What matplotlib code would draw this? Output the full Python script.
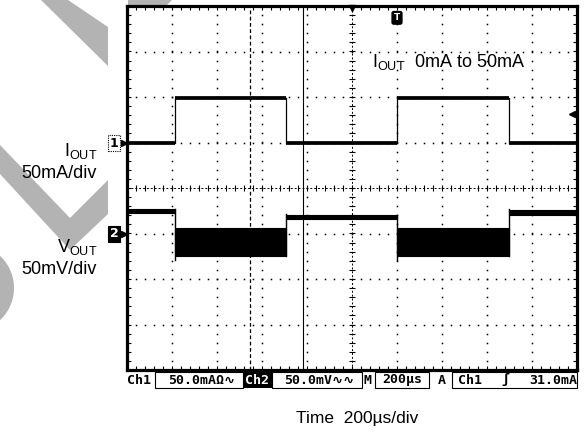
import numpy as np
import matplotlib
matplotlib.use('Agg')
import matplotlib.pyplot as plt
from matplotlib.patches import Polygon, Wedge, Rectangle

plt.rcParams['font.family'] = ['Liberation Sans', 'DejaVu Sans']
plt.rcParams['mathtext.fontset'] = 'custom'
plt.rcParams['mathtext.rm'] = 'Liberation Sans'
plt.rcParams['mathtext.it'] = 'Liberation Sans:italic'

# --- scope traces, in screen divisions (x 0..10, y -4..+4) ---
edges = [0.0, 1.07, 3.53, 6.0, 8.49, 10.0]
ch1_level = [0.98, 1.98, 0.98, 1.98, 0.98]
ch2_top = [-0.46, -0.88, -0.60, -0.88, -0.49]
ch2_bot = [-0.56, -1.50, -0.69, -1.50, -0.59]
ch2_peak = [-1.58, -0.57, -1.58, -0.47]   # spike right at each load step
trig_time = 6.0
trig_level = 1.62
cursor_dash = 2.73
cursor_solid = 3.91

# --- background watermark shapes (pixel coords) ---
wm_strip = [(41, 0), (68, 0), (108, 27), (108, 66)]
wm_top = [(128, 0), (172, 0), (166, 6), (128, 6)]
wm_vee = [(0, 145), (70, 218), (108, 180), (108, 214), (70, 250), (0, 174)]
wm_ring = dict(center=(-30, 288), r=44, width=14)
WM = '#b3b3b3'

fig = plt.figure(figsize=(5.84, 4.33), dpi=100)
bg = fig.add_axes([0, 0, 1, 1])
bg.set_xlim(0, 584)
bg.set_ylim(433, 0)
bg.axis('off')

for pts in (wm_strip, wm_top, wm_vee):
    bg.add_patch(Polygon(pts, closed=True, color=WM, lw=0))
bg.add_patch(Wedge(wm_ring['center'], wm_ring['r'], -90, 90,
                   width=wm_ring['width'], color=WM, lw=0))

# left labels
bg.text(97, 151, r'I$_{\mathrm{OUT}}$', ha='right', va='center', fontsize=13)
bg.text(97, 173, '50mA/div', ha='right', va='center', fontsize=13)
bg.text(97, 247, r'V$_{\mathrm{OUT}}$', ha='right', va='center', fontsize=13)
bg.text(97, 270, '50mV/div', ha='right', va='center', fontsize=13)
bg.text(357, 418, 'Time  200\u00b5s/div', ha='center', va='center', fontsize=12.5)

# scope screen
L, T, W, H = 127, 6, 450, 364
ax = fig.add_axes([L / 584, 1 - (T + H) / 433, W / 584, H / 433])
ax.set_xlim(0, 10)
ax.set_ylim(-4, 4)
ax.set_xticks([])
ax.set_yticks([])
ax.set_facecolor('none')
for s in ax.spines.values():
    s.set_linewidth(2.3)

mx = np.arange(0, 10.01, 0.2)
my = np.arange(-4, 4.01, 0.2)
dot = dict(ls='none', marker='s', ms=1.1, mew=0, color='k')
for gx in range(1, 10):
    if gx != 5:
        ax.plot(np.full_like(my, gx), my, **dot)
for gy in range(-3, 4):
    if gy != 0:
        ax.plot(mx, np.full_like(mx, gy), **dot)
# centre axes with minor ticks
ax.plot(np.full_like(my, 5), my, ls=(0, (2, 2)), lw=0.7, color='k')
ax.plot(np.full_like(my, 5), my, ls='none', marker='_', ms=5, mew=0.8, color='k')
ax.plot(mx, np.zeros_like(mx), ls=(0, (2, 2)), lw=0.7, color='k')
ax.plot(mx, np.zeros_like(mx), ls='none', marker='|', ms=5, mew=0.8, color='k')
# border ticks
for yb in (-4, 4):
    ax.plot(mx, np.full_like(mx, yb), ls='none', marker='|', ms=6, mew=0.8, color='k')
for xb in (0, 10):
    ax.plot(np.full_like(my, xb), my, ls='none', marker='_', ms=6, mew=0.8, color='k')

ax.axvline(cursor_dash, ls=(0, (3, 2)), lw=0.9, color='k')
ax.axvline(cursor_solid, lw=0.8, color='k')

# channel 1
for i in range(5):
    ax.plot(edges[i:i + 2], [ch1_level[i]] * 2, color='k', lw=2.7, solid_capstyle='butt')
for i in range(1, 5):
    ax.plot([edges[i]] * 2, ch1_level[i - 1:i + 1], color='k', lw=0.9)

# channel 2
for i in range(5):
    ax.fill_between(edges[i:i + 2], ch2_bot[i], ch2_top[i], color='k', lw=0.8)
for i in range(1, 5):
    lo = min(ch2_bot[i - 1], ch2_bot[i], ch2_peak[i - 1])
    hi = max(ch2_top[i - 1], ch2_top[i], ch2_peak[i - 1])
    ax.plot([edges[i]] * 2, [lo, hi], color='k', lw=1.0)

# markers
ax.text(-0.29, ch1_level[0], '1', ha='center', va='center', fontsize=9, fontweight='bold',
        family='DejaVu Sans', clip_on=False,
        bbox=dict(boxstyle='square,pad=0.12', fc='white', ec='k', lw=0.8, ls=(0, (1, 1))))
ax.plot([-0.07], [ch1_level[0]], marker='>', ms=4, color='k', clip_on=False)
ax.text(-0.29, -1.0, '2', ha='center', va='center', fontsize=9, fontweight='bold',
        color='white', family='DejaVu Sans', clip_on=False,
        bbox=dict(boxstyle='square,pad=0.12', fc='k', ec='k', lw=0.8))
ax.plot([-0.07], [-1.0], marker='>', ms=4, color='k', clip_on=False)
ax.text(trig_time, 3.74, 'T', ha='center', va='center', fontsize=6.5, fontweight='bold',
        color='white', family='DejaVu Sans',
        bbox=dict(boxstyle='round,pad=0.2,rounding_size=0.2', fc='k', ec='k'))
ax.plot([5], [3.95], marker='v', ms=5, color='k', clip_on=False)
ax.plot([9.88], [trig_level], marker='<', ms=4.5, color='k')
ax.plot([9.88, 9.98], [trig_level] * 2, color='k', lw=0.8)

ax.text(5.45, 2.78, r'I$_{\mathrm{OUT}}$  0mA to 50mA', ha='left', va='center', fontsize=13)

# info bar
mono = dict(family=['DejaVu Sans Mono', 'DejaVu Sans'], fontweight='bold', fontsize=9.5, va='center')
by, bh = 372, 16
for x0, w in [(155, 88), (272, 90), (375, 54), (452, 125)]:
    bg.add_patch(Rectangle((x0, by), w, bh, fill=False, ec='k', lw=0.8))
bg.add_patch(Rectangle((243, by), 29, bh, color='k', lw=0))
yc = by + bh / 2
bg.text(127, yc, 'Ch1', ha='left', **mono)
bg.text(168, yc, '50.0mA\u03a9\u223f', ha='left', **mono)
bg.text(257.5, yc, 'Ch2', ha='center', color='white', **mono)
bg.text(284, yc, '50.0mV\u223f\u223f', ha='left', **mono)
bg.text(367, yc, 'M', ha='center', **mono)
bg.text(402, yc, '200\u00b5s', ha='center', **mono)
bg.text(442, yc, 'A', ha='center', **mono)
bg.text(458, yc, 'Ch1', ha='left', **mono)
bg.text(505, yc, '\u0283', ha='center', **mono)
bg.text(577, yc, '31.0mA', ha='right', **mono)

fig.savefig('out.png', dpi=100)
